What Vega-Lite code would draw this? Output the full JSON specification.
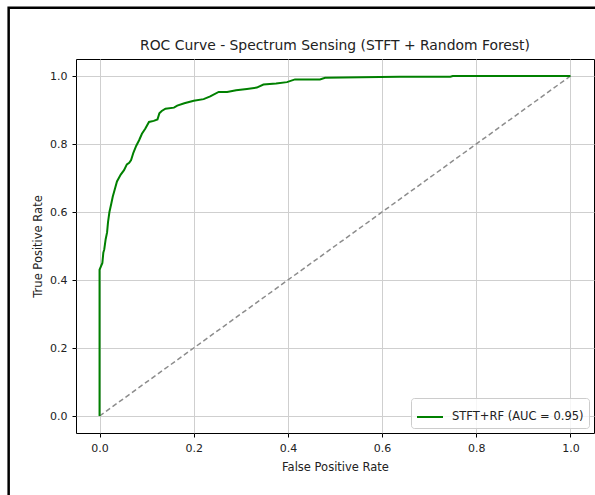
{
  "$schema": "https://vega.github.io/schema/vega-lite/v6.json",
  "width": 518,
  "height": 374,
  "autosize": "none",
  "padding": {"left": 76, "top": 59, "right": 1, "bottom": 62},
  "background": "white",
  "title": {
    "text": "ROC Curve - Spectrum Sensing (STFT + Random Forest)",
    "font": "DejaVu Sans",
    "fontSize": 13.9,
    "fontWeight": "normal",
    "color": "#222222",
    "offset": -46
  },
  "datasets": {
    "roc": [
      {"fpr": 0, "tpr": 0, "series": "STFT+RF (AUC = 0.95)"},
      {"fpr": 0, "tpr": 0.43, "series": "STFT+RF (AUC = 0.95)"},
      {"fpr": 0.003, "tpr": 0.44, "series": "STFT+RF (AUC = 0.95)"},
      {"fpr": 0.006, "tpr": 0.45, "series": "STFT+RF (AUC = 0.95)"},
      {"fpr": 0.008, "tpr": 0.48, "series": "STFT+RF (AUC = 0.95)"},
      {"fpr": 0.01, "tpr": 0.49, "series": "STFT+RF (AUC = 0.95)"},
      {"fpr": 0.013, "tpr": 0.52, "series": "STFT+RF (AUC = 0.95)"},
      {"fpr": 0.016, "tpr": 0.54, "series": "STFT+RF (AUC = 0.95)"},
      {"fpr": 0.018, "tpr": 0.57, "series": "STFT+RF (AUC = 0.95)"},
      {"fpr": 0.021, "tpr": 0.6, "series": "STFT+RF (AUC = 0.95)"},
      {"fpr": 0.025, "tpr": 0.625, "series": "STFT+RF (AUC = 0.95)"},
      {"fpr": 0.028, "tpr": 0.645, "series": "STFT+RF (AUC = 0.95)"},
      {"fpr": 0.033, "tpr": 0.67, "series": "STFT+RF (AUC = 0.95)"},
      {"fpr": 0.037, "tpr": 0.69, "series": "STFT+RF (AUC = 0.95)"},
      {"fpr": 0.041, "tpr": 0.7, "series": "STFT+RF (AUC = 0.95)"},
      {"fpr": 0.045, "tpr": 0.71, "series": "STFT+RF (AUC = 0.95)"},
      {"fpr": 0.052, "tpr": 0.723, "series": "STFT+RF (AUC = 0.95)"},
      {"fpr": 0.058, "tpr": 0.74, "series": "STFT+RF (AUC = 0.95)"},
      {"fpr": 0.063, "tpr": 0.745, "series": "STFT+RF (AUC = 0.95)"},
      {"fpr": 0.067, "tpr": 0.753, "series": "STFT+RF (AUC = 0.95)"},
      {"fpr": 0.072, "tpr": 0.775, "series": "STFT+RF (AUC = 0.95)"},
      {"fpr": 0.078, "tpr": 0.795, "series": "STFT+RF (AUC = 0.95)"},
      {"fpr": 0.084, "tpr": 0.811, "series": "STFT+RF (AUC = 0.95)"},
      {"fpr": 0.09, "tpr": 0.83, "series": "STFT+RF (AUC = 0.95)"},
      {"fpr": 0.097, "tpr": 0.845, "series": "STFT+RF (AUC = 0.95)"},
      {"fpr": 0.105, "tpr": 0.865, "series": "STFT+RF (AUC = 0.95)"},
      {"fpr": 0.115, "tpr": 0.868, "series": "STFT+RF (AUC = 0.95)"},
      {"fpr": 0.123, "tpr": 0.872, "series": "STFT+RF (AUC = 0.95)"},
      {"fpr": 0.127, "tpr": 0.89, "series": "STFT+RF (AUC = 0.95)"},
      {"fpr": 0.132, "tpr": 0.897, "series": "STFT+RF (AUC = 0.95)"},
      {"fpr": 0.14, "tpr": 0.904, "series": "STFT+RF (AUC = 0.95)"},
      {"fpr": 0.158, "tpr": 0.907, "series": "STFT+RF (AUC = 0.95)"},
      {"fpr": 0.165, "tpr": 0.913, "series": "STFT+RF (AUC = 0.95)"},
      {"fpr": 0.18, "tpr": 0.92, "series": "STFT+RF (AUC = 0.95)"},
      {"fpr": 0.2, "tpr": 0.927, "series": "STFT+RF (AUC = 0.95)"},
      {"fpr": 0.221, "tpr": 0.932, "series": "STFT+RF (AUC = 0.95)"},
      {"fpr": 0.235, "tpr": 0.94, "series": "STFT+RF (AUC = 0.95)"},
      {"fpr": 0.253, "tpr": 0.953, "series": "STFT+RF (AUC = 0.95)"},
      {"fpr": 0.271, "tpr": 0.953, "series": "STFT+RF (AUC = 0.95)"},
      {"fpr": 0.29, "tpr": 0.958, "series": "STFT+RF (AUC = 0.95)"},
      {"fpr": 0.313, "tpr": 0.962, "series": "STFT+RF (AUC = 0.95)"},
      {"fpr": 0.334, "tpr": 0.966, "series": "STFT+RF (AUC = 0.95)"},
      {"fpr": 0.348, "tpr": 0.975, "series": "STFT+RF (AUC = 0.95)"},
      {"fpr": 0.375, "tpr": 0.978, "series": "STFT+RF (AUC = 0.95)"},
      {"fpr": 0.398, "tpr": 0.982, "series": "STFT+RF (AUC = 0.95)"},
      {"fpr": 0.415, "tpr": 0.99, "series": "STFT+RF (AUC = 0.95)"},
      {"fpr": 0.468, "tpr": 0.99, "series": "STFT+RF (AUC = 0.95)"},
      {"fpr": 0.479, "tpr": 0.995, "series": "STFT+RF (AUC = 0.95)"},
      {"fpr": 0.595, "tpr": 0.997, "series": "STFT+RF (AUC = 0.95)"},
      {"fpr": 0.637, "tpr": 0.998, "series": "STFT+RF (AUC = 0.95)"},
      {"fpr": 0.745, "tpr": 0.998, "series": "STFT+RF (AUC = 0.95)"},
      {"fpr": 0.75, "tpr": 1.0, "series": "STFT+RF (AUC = 0.95)"},
      {"fpr": 1.0, "tpr": 1.0, "series": "STFT+RF (AUC = 0.95)"}
    ],
    "diag": [
      {"fpr": 0, "tpr": 0},
      {"fpr": 1, "tpr": 1}
    ]
  },
  "layer": [
    {
      "data": {"values": [{}]},
      "mark": {"type": "rect", "fill": null, "filled": false, "stroke": "black", "strokeWidth": 2.5, "clip": false},
      "encoding": {
        "x": {"datum": -0.193, "type": "quantitative", "scale": {"domain": [-0.05, 1.05], "nice": false, "zero": false}, "axis": {"title": "False Positive Rate", "values": [0, 0.2, 0.4, 0.6, 0.8, 1.0], "format": ".1f"}},
        "x2": {"datum": 1.3},
        "y": {"datum": 1.2006, "type": "quantitative", "scale": {"domain": [-0.05, 1.05], "nice": false, "zero": false}, "axis": {"title": "True Positive Rate", "values": [0, 0.2, 0.4, 0.6, 0.8, 1.0], "format": ".1f"}},
        "y2": {"datum": -0.4}
      }
    },
    {
      "data": {"name": "diag"},
      "mark": {"type": "line", "color": "#8c8c8c", "strokeDash": [5, 3], "strokeWidth": 1.5},
      "encoding": {
        "x": {"field": "fpr", "type": "quantitative", "scale": {"domain": [-0.05, 1.05], "nice": false, "zero": false}, "axis": {"title": "False Positive Rate", "values": [0, 0.2, 0.4, 0.6, 0.8, 1.0], "format": ".1f"}},
        "y": {"field": "tpr", "type": "quantitative", "scale": {"domain": [-0.05, 1.05], "nice": false, "zero": false}, "axis": {"title": "True Positive Rate", "values": [0, 0.2, 0.4, 0.6, 0.8, 1.0], "format": ".1f"}}
      }
    },
    {
      "data": {"name": "roc"},
      "mark": {"type": "line", "strokeWidth": 2},
      "encoding": {
        "x": {
          "field": "fpr", "type": "quantitative",
          "scale": {"domain": [-0.05, 1.05], "nice": false, "zero": false},
          "axis": {"title": "False Positive Rate", "values": [0, 0.2, 0.4, 0.6, 0.8, 1.0], "format": ".1f"}
        },
        "y": {
          "field": "tpr", "type": "quantitative",
          "scale": {"domain": [-0.05, 1.05], "nice": false, "zero": false},
          "axis": {"title": "True Positive Rate", "values": [0, 0.2, 0.4, 0.6, 0.8, 1.0], "format": ".1f"}
        },
        "color": {
          "field": "series", "type": "nominal",
          "scale": {"domain": ["STFT+RF (AUC = 0.95)"], "range": ["#008000"]},
          "legend": {"title": null}
        }
      }
    }
  ],
  "config": {
    "font": "DejaVu Sans",
    "view": {"stroke": "black", "strokeWidth": 1},
    "axis": {
      "domain": false,
      "grid": true,
      "gridColor": "#cfcfcf",
      "gridWidth": 1,
      "ticks": true,
      "tickColor": "black",
      "tickSize": 4,
      "tickWidth": 1,
      "labelFont": "DejaVu Sans",
      "labelFontSize": 11,
      "labelColor": "#222222",
      "labelPadding": 5,
      "labelFlush": false,
      "titleFont": "DejaVu Sans",
      "titleFontSize": 11.5,
      "titleFontWeight": "normal",
      "titleColor": "#222222",
      "titlePadding": 8
    },
    "axisY": {"titlePadding": 6},
    "legend": {
      "orient": "bottom-right",
      "offset": 5,
      "strokeColor": "#cccccc",
      "fillColor": "rgba(255,255,255,0.8)",
      "padding": 5,
      "cornerRadius": 3,
      "symbolType": "stroke",
      "symbolSize": 676,
      "symbolStrokeWidth": 2,
      "labelFont": "DejaVu Sans",
      "labelFontSize": 11.5,
      "labelColor": "#222222",
      "labelOffset": 8
    }
  }
}
